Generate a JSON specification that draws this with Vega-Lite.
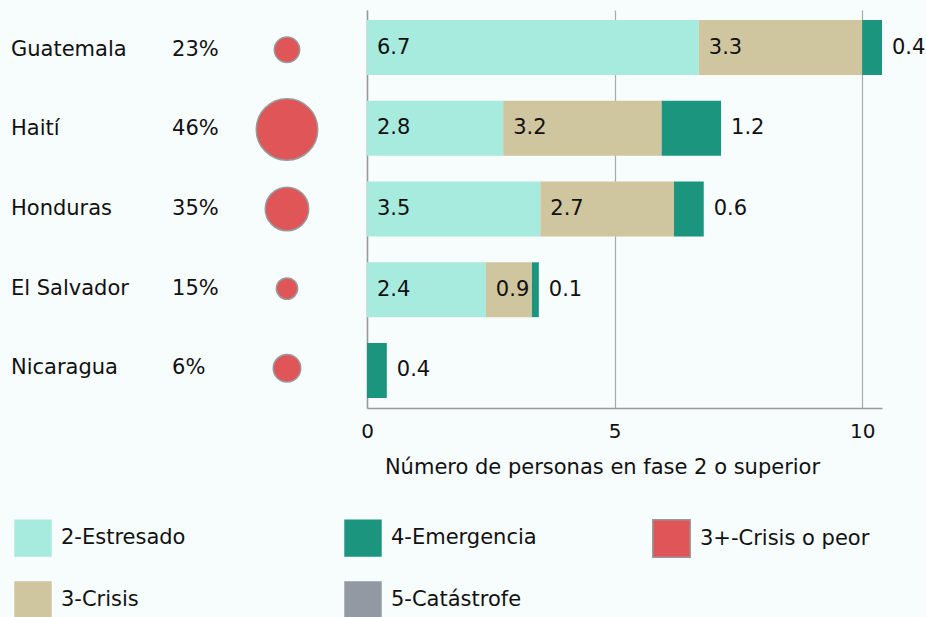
{
  "$schema": "https://vega.github.io/schema/vega-lite/v6.json",
  "background": "#f7fcfc",
  "padding": {"left": 0, "top": 10, "right": 0, "bottom": 0},
  "bounds": "flush",
  "spacing": 0,
  "config": {
    "view": {"stroke": null},
    "font": "DejaVu Sans",
    "text": {"font": "DejaVu Sans"},
    "axis": {"labelFont": "DejaVu Sans", "titleFont": "DejaVu Sans", "labelColor": "#111", "titleColor": "#111"},
    "legend": {"labelFont": "DejaVu Sans", "padding": 0, "labelColor": "#111", "labelLimit": 400}
  },
  "datasets": {
    "paises": [
      {"pais": "Guatemala", "pct": 0.23, "magnitud": 17},
      {"pais": "Haití", "pct": 0.46, "magnitud": 100},
      {"pais": "Honduras", "pct": 0.35, "magnitud": 50},
      {"pais": "El Salvador", "pct": 0.15, "magnitud": 12},
      {"pais": "Nicaragua", "pct": 0.06, "magnitud": 20}
    ],
    "fases": [
      {"pais": "Guatemala", "fase": "2-Estresado", "valor": 6.7},
      {"pais": "Guatemala", "fase": "3-Crisis", "valor": 3.3},
      {"pais": "Guatemala", "fase": "4-Emergencia", "valor": 0.4},
      {"pais": "Haití", "fase": "2-Estresado", "valor": 2.75},
      {"pais": "Haití", "fase": "3-Crisis", "valor": 3.2},
      {"pais": "Haití", "fase": "4-Emergencia", "valor": 1.2},
      {"pais": "Honduras", "fase": "2-Estresado", "valor": 3.5},
      {"pais": "Honduras", "fase": "3-Crisis", "valor": 2.7},
      {"pais": "Honduras", "fase": "4-Emergencia", "valor": 0.6},
      {"pais": "El Salvador", "fase": "2-Estresado", "valor": 2.4},
      {"pais": "El Salvador", "fase": "3-Crisis", "valor": 0.93},
      {"pais": "El Salvador", "fase": "4-Emergencia", "valor": 0.14},
      {"pais": "Nicaragua", "fase": "4-Emergencia", "valor": 0.4}
    ]
  },
  "hconcat": [
    {
      "width": 367,
      "height": 398,
      "data": {"name": "paises"},
      "encoding": {
        "y": {
          "field": "pais", "type": "nominal",
          "sort": ["Guatemala", "Haití", "Honduras", "El Salvador", "Nicaragua"],
          "scale": {"paddingInner": 0.32, "paddingOuter": 0.125},
          "axis": null
        }
      },
      "layer": [
        {
          "mark": {"type": "text", "align": "left", "baseline": "middle", "fontSize": 21, "color": "#111"},
          "encoding": {
            "x": {"datum": 0.03, "type": "quantitative", "scale": {"domain": [0, 1]}, "axis": null},
            "text": {"field": "pais"}
          }
        },
        {
          "mark": {"type": "text", "align": "left", "baseline": "middle", "fontSize": 21, "color": "#111"},
          "encoding": {
            "x": {"datum": 0.469, "type": "quantitative", "scale": {"domain": [0, 1]}, "axis": null},
            "text": {"field": "pct", "format": ".0%"}
          }
        },
        {
          "mark": {"type": "circle", "stroke": "#999", "strokeWidth": 1.5, "opacity": 1},
          "encoding": {
            "x": {"datum": 0.782, "type": "quantitative", "scale": {"domain": [0, 1]}, "axis": null},
            "size": {"field": "magnitud", "type": "quantitative", "scale": {"domain": [0, 100], "range": [0, 3782]}, "legend": null},
            "fill": {
              "datum": "3+-Crisis o peor", "type": "nominal",
              "scale": {"range": ["#df5558"]},
              "legend": {
                "orient": "none", "legendX": 652, "legendY": 509, "title": null,
                "symbolType": "square", "symbolSize": 1400, "symbolStrokeColor": "#999", "symbolStrokeWidth": 1.5, "symbolOpacity": 1,
                "labelFontSize": 21, "labelOffset": 9
              }
            }
          }
        }
      ]
    },
    {
      "width": 515,
      "height": 398,
      "data": {"name": "fases"},
      "transform": [
        {"stack": "valor", "groupby": ["pais"], "sort": [{"field": "fase", "order": "ascending"}], "as": ["x0", "x1"]}
      ],
      "encoding": {
        "y": {
          "field": "pais", "type": "nominal",
          "sort": ["Guatemala", "Haití", "Honduras", "El Salvador", "Nicaragua"],
          "scale": {"paddingInner": 0.32, "paddingOuter": 0.125},
          "axis": {"labels": false, "ticks": false, "title": null, "domain": true, "domainColor": "#999", "domainWidth": 1.5, "grid": false}
        }
      },
      "layer": [
        {
          "mark": {"type": "bar"},
          "encoding": {
            "x": {
              "field": "x0", "type": "quantitative",
              "scale": {"domain": [0, 10.4], "nice": false},
              "axis": {
                "values": [0, 5, 10], "grid": true, "gridColor": "#aaa", "gridWidth": 1.2,
                "domainColor": "#999", "domainWidth": 1.5, "ticks": false,
                "labelFontSize": 20, "labelPadding": 13, "labelFlush": false,
                "title": "Número de personas en fase 2 o superior",
                "titleFontSize": 21, "titleFontWeight": "normal", "titlePadding": 15, "titleX": 235
              }
            },
            "x2": {"field": "x1"},
            "color": {
              "field": "fase", "type": "nominal",
              "scale": {
                "domain": ["2-Estresado", "3-Crisis", "4-Emergencia", "5-Catástrofe"],
                "range": ["#a7ebdf", "#cfc69f", "#1c957f", "#9299a3"]
              },
              "legend": {
                "orient": "none", "legendX": 14, "legendY": 509, "title": null,
                "columns": 2, "columnPadding": 158, "rowPadding": 24,
                "symbolType": "square", "symbolSize": 1400, "symbolStrokeWidth": 0, "symbolOpacity": 1,
                "labelFontSize": 21, "labelOffset": 9
              }
            }
          }
        },
        {
          "transform": [{"filter": "datum.fase === '2-Estresado' || datum.fase === '3-Crisis'"}],
          "mark": {"type": "text", "align": "left", "baseline": "middle", "dx": 10, "fontSize": 21, "color": "#111"},
          "encoding": {
            "x": {"field": "x0", "type": "quantitative"},
            "text": {"field": "valor", "type": "quantitative", "format": ".1f"}
          }
        },
        {
          "transform": [{"filter": "datum.fase === '4-Emergencia'"}],
          "mark": {"type": "text", "align": "left", "baseline": "middle", "dx": 10, "fontSize": 21, "color": "#111"},
          "encoding": {
            "x": {"field": "x1", "type": "quantitative"},
            "text": {"field": "valor", "type": "quantitative", "format": ".1f"}
          }
        }
      ]
    }
  ]
}
